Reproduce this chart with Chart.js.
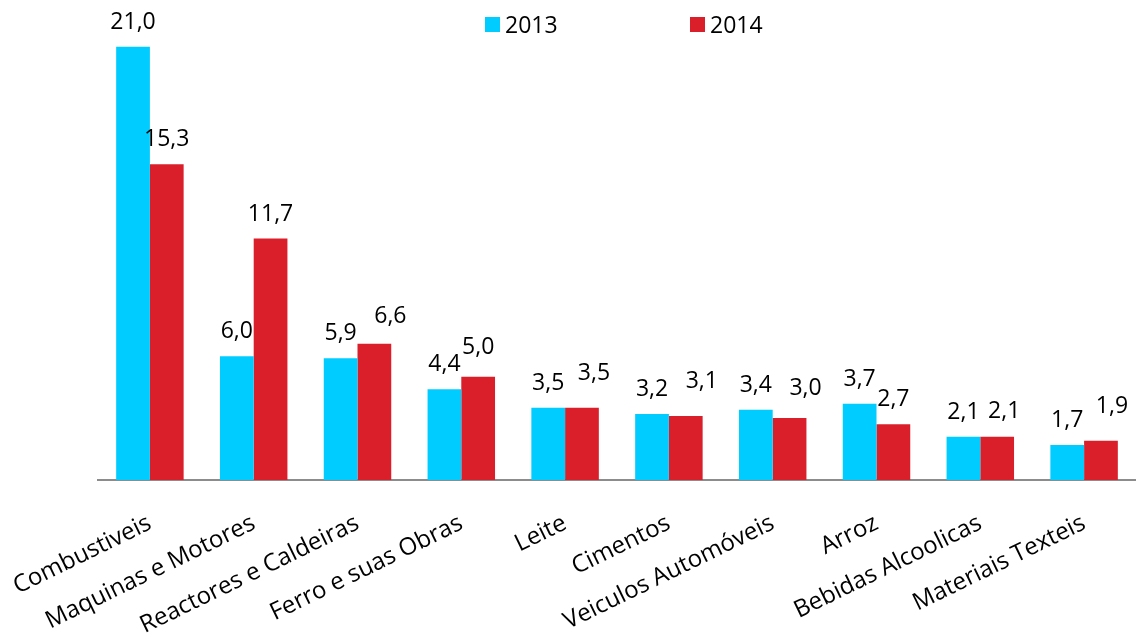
<!doctype html>
<html lang="pt">
<head>
  <meta charset="utf-8">
  <title>Importações 2013 / 2014</title>
  <script src="https://cdn.jsdelivr.net/npm/chart.js@4/dist/chart.umd.min.js"></script>
  <style>
    html, body { margin: 0; padding: 0; background: #fff; }
    #wrap { width: 1136px; height: 638px; position: relative; }
  </style>
</head>
<body>
  <div id="wrap"><canvas id="chart"></canvas></div>
  <script>
    const categories = ['Combustiveis', 'Maquinas e Motores', 'Reactores e Caldeiras', 'Ferro e suas Obras',
      'Leite', 'Cimentos', 'Veiculos Automóveis', 'Arroz', 'Bebidas Alcoolicas', 'Materiais Texteis'];
    const values2013 = [21.0, 6.0, 5.9, 4.4, 3.5, 3.2, 3.4, 3.7, 2.1, 1.7];
    const values2014 = [15.3, 11.7, 6.6, 5.0, 3.5, 3.1, 3.0, 2.7, 2.1, 1.9];
    const seriesNames = ['2013', '2014'];

    // hand-moved 2014 labels in the original (px right, px up)
    const nudgeX2014 = [0, 0, 16, 0, 12, 16, 16, 0, 7, 11];
    const nudgeY2014 = [0, 0, 3, 5, 10, 10, 5, 0, 1, 10];

    const FONT = '"Open Sans", Lato, sans-serif';

    // value labels above each bar, comma decimals
    const valueLabels = {
      id: 'valueLabels',
      afterDatasetsDraw(chart) {
        const ctx = chart.ctx;
        ctx.save();
        ctx.font = '23px ' + FONT;
        ctx.fillStyle = '#000';
        ctx.textAlign = 'center';
        ctx.textBaseline = 'alphabetic';
        chart.data.datasets.forEach((ds, i) => {
          chart.getDatasetMeta(i).data.forEach((bar, j) => {
            const txt = ds.data[j].toFixed(1).replace('.', ',');
            const dx = i === 1 ? nudgeX2014[j] : 0;
            const dy = i === 1 ? nudgeY2014[j] : 0;
            ctx.fillText(txt, bar.x + dx, bar.y - 18 - dy);
          });
        });
        ctx.restore();
      }
    };

    // legend at the top, spaced like the original
    const topLegend = {
      id: 'topLegend',
      afterDraw(chart) {
        const ctx = chart.ctx;
        ctx.save();
        ctx.font = '23px ' + FONT;
        ctx.textBaseline = 'alphabetic';
        ctx.textAlign = 'left';
        const xs = [485, 690];
        chart.data.datasets.forEach((ds, i) => {
          ctx.fillStyle = ds.backgroundColor;
          ctx.fillRect(xs[i], 17, 15, 15);
          ctx.fillStyle = '#000';
          ctx.fillText(ds.label, xs[i] + 20, 33);
        });
        ctx.restore();
      }
    };

    new Chart(document.getElementById('chart'), {
      type: 'bar',
      data: {
        labels: categories,
        datasets: [
          { label: seriesNames[0], data: values2013, backgroundColor: '#00CCFF' },
          { label: seriesNames[1], data: values2014, backgroundColor: '#DA1F2A' }
        ]
      },
      options: {
        responsive: true,
        maintainAspectRatio: false,
        animation: false,
        layout: { padding: { top: 26, left: 98, right: 0, bottom: 0 } },
        categoryPercentage: 0.65,
        barPercentage: 1.0,
        plugins: {
          legend: { display: false },
          tooltip: { enabled: false }
        },
        scales: {
          x: {
            grid: { display: false },
            border: { display: true, color: '#8c8c8c', width: 2 },
            ticks: {
              color: '#000',
              font: { family: FONT, size: 24 },
              minRotation: 26,
              maxRotation: 26,
              padding: 21,
              autoSkip: false
            },
            afterFit(scale) {
              scale.height = 158;
              scale.paddingLeft = 0;
              scale.paddingRight = 0;
            }
          },
          y: {
            display: false,
            min: 0,
            max: 22
          }
        }
      },
      plugins: [valueLabels, topLegend]
    });
  </script>
</body>
</html>
